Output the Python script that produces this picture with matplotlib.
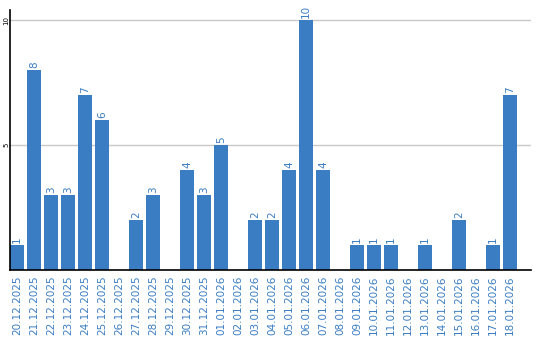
import matplotlib
matplotlib.use("Agg")
import matplotlib.pyplot as plt

dates = ["20.12.2025", "21.12.2025", "22.12.2025", "23.12.2025", "24.12.2025",
         "25.12.2025", "26.12.2025", "27.12.2025", "28.12.2025", "29.12.2025",
         "30.12.2025", "31.12.2025", "01.01.2026", "02.01.2026", "03.01.2026",
         "04.01.2026", "05.01.2026", "06.01.2026", "07.01.2026", "08.01.2026",
         "09.01.2026", "10.01.2026", "11.01.2026", "12.01.2026", "13.01.2026",
         "14.01.2026", "15.01.2026", "16.01.2026", "17.01.2026", "18.01.2026"]
counts = [1, 8, 3, 3, 7, 6, 0, 2, 3, 0, 4, 3, 5, 0, 2, 2, 4, 10, 4, 0,
          1, 1, 1, 0, 1, 0, 2, 0, 1, 7]
y_ticks = [5, 10]

bar_color = "#3b7dc2"
text_color = "#3b7dc2"

fig = plt.figure(figsize=(5.4, 3.4), dpi=100)
ax = fig.add_axes([10 / 540, 70 / 340, 521 / 540, 260 / 340])

x = list(range(len(dates)))
ax.bar(x, counts, width=14 / 17, color=bar_color, zorder=2)

# value labels above non-empty bars
for i, v in enumerate(counts):
    if v > 0:
        ax.text(i, v + 0.08, str(v), rotation=90, ha="center", va="bottom",
                color=text_color, fontsize=7.5)

ax.set_xlim(-7 / 17, -7 / 17 + 521 / 17)
ax.set_ylim(0, 10.4)

ax.set_xticks(x)
ax.set_xticklabels(dates, rotation=90, color=text_color, fontsize=7.5)
ax.set_yticks(y_ticks)
ax.set_yticklabels([str(t) for t in y_ticks], rotation=90, fontsize=5,
                   va="center")
ax.tick_params(axis="both", length=0)
ax.tick_params(axis="x", pad=4)
ax.tick_params(axis="y", pad=0.5)

ax.grid(axis="y", color="#c8c8c8", linewidth=1, zorder=0)
ax.spines["top"].set_visible(False)
ax.spines["right"].set_visible(False)
ax.spines["left"].set_color("black")
ax.spines["bottom"].set_color("black")
ax.spines["left"].set_linewidth(1.2)
ax.spines["bottom"].set_linewidth(1.2)
ax.spines["bottom"].set_zorder(3)

fig.savefig("out.png", dpi=100)
